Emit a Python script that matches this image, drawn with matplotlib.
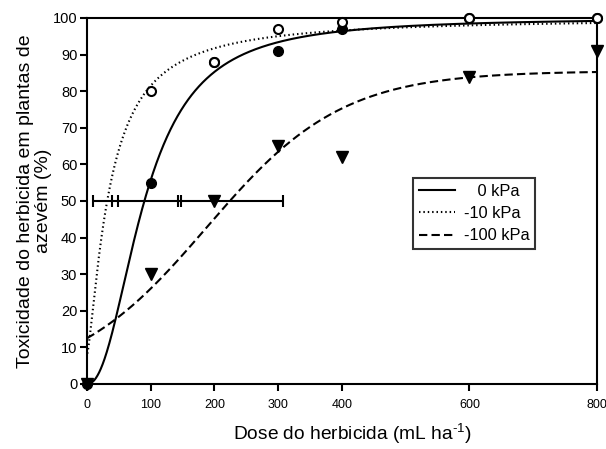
import numpy as np
import matplotlib
matplotlib.use("Agg")
import matplotlib.pyplot as plt

plt.rcParams['font.family'] = ['Liberation Sans', 'DejaVu Sans']
plt.rcParams['mathtext.fontset'] = 'custom'
plt.rcParams['mathtext.rm'] = 'Liberation Sans'

# Observed data
dose = [0, 100, 200, 300, 400, 600, 800]
tox_0kpa = [0, 55, 88, 91, 97, 100, 100]
tox_10kpa = [0, 80, 88, 97, 99, 100, 100]
tox_100kpa = [0, 30, 50, 65, 62, 84, 91]

# Fitted curve parameters
# 0 and -10 kPa: log-logistic  y = c + (top - c) / (1 + (e/x)^b)
fit_0kpa = dict(c=0, top=100, e=90, b=2.2)
fit_10kpa = dict(c=8, top=100, e=36, b=1.35)
# -100 kPa: logistic  y = top / (1 + exp(-(x - x0)/s))
fit_100kpa = dict(top=85.5, x0=187.6, s=106.3)

# ED50 interval bounds drawn at y = 50
ci_bounds = [9, 39, 49, 142, 148, 307]
ci_level = 50

legend_labels = ['   0 kPa', '-10 kPa', '-100 kPa']


def loglogistic(x, c, top, e, b):
    x = np.maximum(x, 1e-9)
    return c + (top - c) / (1 + (e / x) ** b)


fig = plt.figure(figsize=(6.06, 4.49), dpi=100)
ax = fig.add_axes([0.1436, 0.1448, 0.985 - 0.1436, 0.96 - 0.1448])

xs = np.linspace(0, 800, 1600)
y0 = loglogistic(xs, **fit_0kpa)
y10 = loglogistic(xs, **fit_10kpa)
y100 = fit_100kpa['top'] / (1 + np.exp(-(xs - fit_100kpa['x0']) / fit_100kpa['s']))

ax.plot(xs, y0, color='black', lw=1.5, ls='-', label=legend_labels[0])
ax.plot(xs[1:], y10[1:], color='black', lw=1.5, ls=(0, (0.7, 1.4)), label=legend_labels[1])
ax.plot(xs, y100, color='black', lw=1.5, ls=(0, (4, 2)), label=legend_labels[2])

# ED50 interval line
ax.hlines(ci_level, min(ci_bounds), max(ci_bounds), color='black', lw=1.5)
ax.plot(ci_bounds, [ci_level] * len(ci_bounds), ls='none', marker='|',
        color='black', markersize=9, markeredgewidth=1.5)

ax.plot(dose, tox_0kpa, ls='none', marker='o', color='black', markersize=7,
        clip_on=False, zorder=5)
# hollow point at dose 0 is hidden beneath the filled markers in the original
ax.plot(dose[1:], tox_10kpa[1:], ls='none', marker='o', markerfacecolor='white',
        markeredgecolor='black', markeredgewidth=1.5, markersize=6.5,
        clip_on=False, zorder=6)
ax.plot(dose, tox_100kpa, ls='none', marker='v', color='black', markersize=8.5,
        clip_on=False, zorder=7)

ax.set_xlim(0, 800)
ax.set_ylim(0, 100)
ax.set_xticks([0, 100, 200, 300, 400, 600, 800])
ax.set_yticks(np.arange(0, 101, 10))
ax.tick_params(axis='x', labelsize=9, direction='out', length=5, width=1.5, pad=6)
ax.tick_params(axis='y', labelsize=10.5, direction='out', length=5, width=1.5, pad=2)
for sp in ax.spines.values():
    sp.set_linewidth(1.5)

ax.set_xlabel(r'Dose do herbicida (mL ha$^{\text{-}1}$)', fontsize=13.8)
ax.xaxis.set_label_coords(0.52, -0.102)
ax.set_ylabel('Toxicidade do herbicida em plantas de\nazevém (%)', fontsize=14,
              linespacing=1.1)
ax.yaxis.set_label_coords(-0.069, 0.5)

leg = ax.legend(loc='upper left', bbox_to_anchor=(0.639, 0.563), fontsize=11.8,
                frameon=True, fancybox=False, edgecolor='black', handlelength=2.2,
                handletextpad=0.55, borderpad=0.35, labelspacing=0.45,
                borderaxespad=0)
leg.get_frame().set_linewidth(1.5)

fig.savefig('out.png', dpi=100)
